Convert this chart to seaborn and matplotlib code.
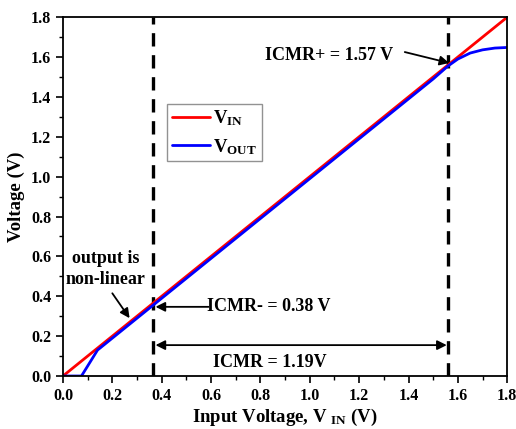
import numpy as np
import pandas as pd
import matplotlib
matplotlib.use('Agg')
import matplotlib.pyplot as plt
import seaborn as sns
from matplotlib.ticker import MultipleLocator

# data
vin_x = [0.0, 1.8]
vin_y = [0.0, 1.8]
vout_x = [0.0, 0.075, 0.14, 0.2, 0.365, 0.6, 1.0, 1.4, 1.5, 1.56, 1.6, 1.65, 1.7, 1.75, 1.8]
vout_y = [0.0, 0.0, 0.13, 0.19, 0.355, 0.59, 0.99, 1.39, 1.49, 1.555, 1.59, 1.62, 1.636, 1.645, 1.648]
icmr_minus = 0.365
icmr_plus = 1.56

sns.set_theme(style='ticks')
plt.rcParams['font.family'] = ['Liberation Serif', 'DejaVu Serif']
plt.rcParams['font.weight'] = 'bold'
plt.rcParams['text.color'] = 'black'
plt.rcParams['axes.labelcolor'] = 'black'
plt.rcParams['mathtext.fontset'] = 'custom'
plt.rcParams['mathtext.rm'] = 'Liberation Serif:bold'
plt.rcParams['mathtext.bf'] = 'Liberation Serif:bold'
plt.rcParams['mathtext.it'] = 'Liberation Serif:bold'

fig = plt.figure(figsize=(5.16, 4.29), dpi=100)
ax = fig.add_axes([0.122, 0.1235, 0.861, 0.8365])

df_in = pd.DataFrame({'x': vin_x, 'y': vin_y})
df_out = pd.DataFrame({'x': vout_x, 'y': vout_y})
sns.lineplot(data=df_in, x='x', y='y', color='#ff0000', lw=2, ax=ax, label=r'V$_{\rm IN}$')
sns.lineplot(data=df_out, x='x', y='y', color='#0000ff', lw=2, ax=ax, label=r'V$_{\rm OUT}$')

for xv in (icmr_minus, icmr_plus):
    ax.axvline(xv, color='black', lw=2.4, linestyle=(0, (4, 2.6)), zorder=1)

ax.set_xlim(0, 1.8)
ax.set_ylim(0, 1.8)
ax.xaxis.set_major_locator(MultipleLocator(0.2))
ax.yaxis.set_major_locator(MultipleLocator(0.2))
ax.xaxis.set_minor_locator(MultipleLocator(0.1))
ax.yaxis.set_minor_locator(MultipleLocator(0.1))
ax.tick_params(which='major', direction='out', length=5, width=1.2, labelsize=11.5, colors='black')
ax.tick_params(which='minor', direction='out', length=3, width=1.0, colors='black')
for lab in ax.get_xticklabels() + ax.get_yticklabels():
    lab.set_fontweight('bold')
for s in ax.spines.values():
    s.set_visible(True)
    s.set_linewidth(1.3)
    s.set_color('black')

ax.set_xlabel(r'Input Voltage, V $_{\rm IN}$ (V)', fontsize=13.5, fontweight='bold', labelpad=2)
ax.set_ylabel('Voltage (V)', fontsize=13.5, fontweight='bold', labelpad=4)

leg = ax.legend(loc='upper left', bbox_to_anchor=(0.235, 0.758), borderaxespad=0, fontsize=13.5,
                frameon=True, fancybox=False, edgecolor='#777777', handlelength=2.0,
                handletextpad=0.2, borderpad=0.25, labelspacing=0.45)
leg.get_frame().set_linewidth(1.0)
for t in leg.get_texts():
    t.set_color('black')

bold = dict(fontsize=13, fontweight='bold', color='black')
arrow = dict(arrowstyle='-|>', color='black', lw=1.3, shrinkA=0, shrinkB=0, mutation_scale=14)
ax.text(1.08, 1.61, 'ICMR+ = 1.57 V', ha='center', va='center', **bold)
ax.annotate('', xy=(1.565, 1.57), xytext=(1.385, 1.625), arrowprops=arrow)
ax.text(0.172, 0.535, 'output is\nnon-linear', ha='center', va='center', linespacing=1.3, **bold)
ax.annotate('', xy=(0.27, 0.29), xytext=(0.2, 0.415), arrowprops=arrow)
ax.annotate('', xy=(0.375, 0.347), xytext=(0.59, 0.347), arrowprops=arrow)
ax.text(0.585, 0.347, 'ICMR- = 0.38 V', ha='left', va='center', **bold)
ax.annotate('', xy=(0.375, 0.155), xytext=(1.555, 0.155),
            arrowprops=dict(arrowstyle='<|-|>', color='black', lw=1.3, shrinkA=0, shrinkB=0,
                            mutation_scale=14))
ax.text(0.84, 0.07, 'ICMR = 1.19V', ha='center', va='center', **bold)

fig.savefig('out.png', dpi=100)
